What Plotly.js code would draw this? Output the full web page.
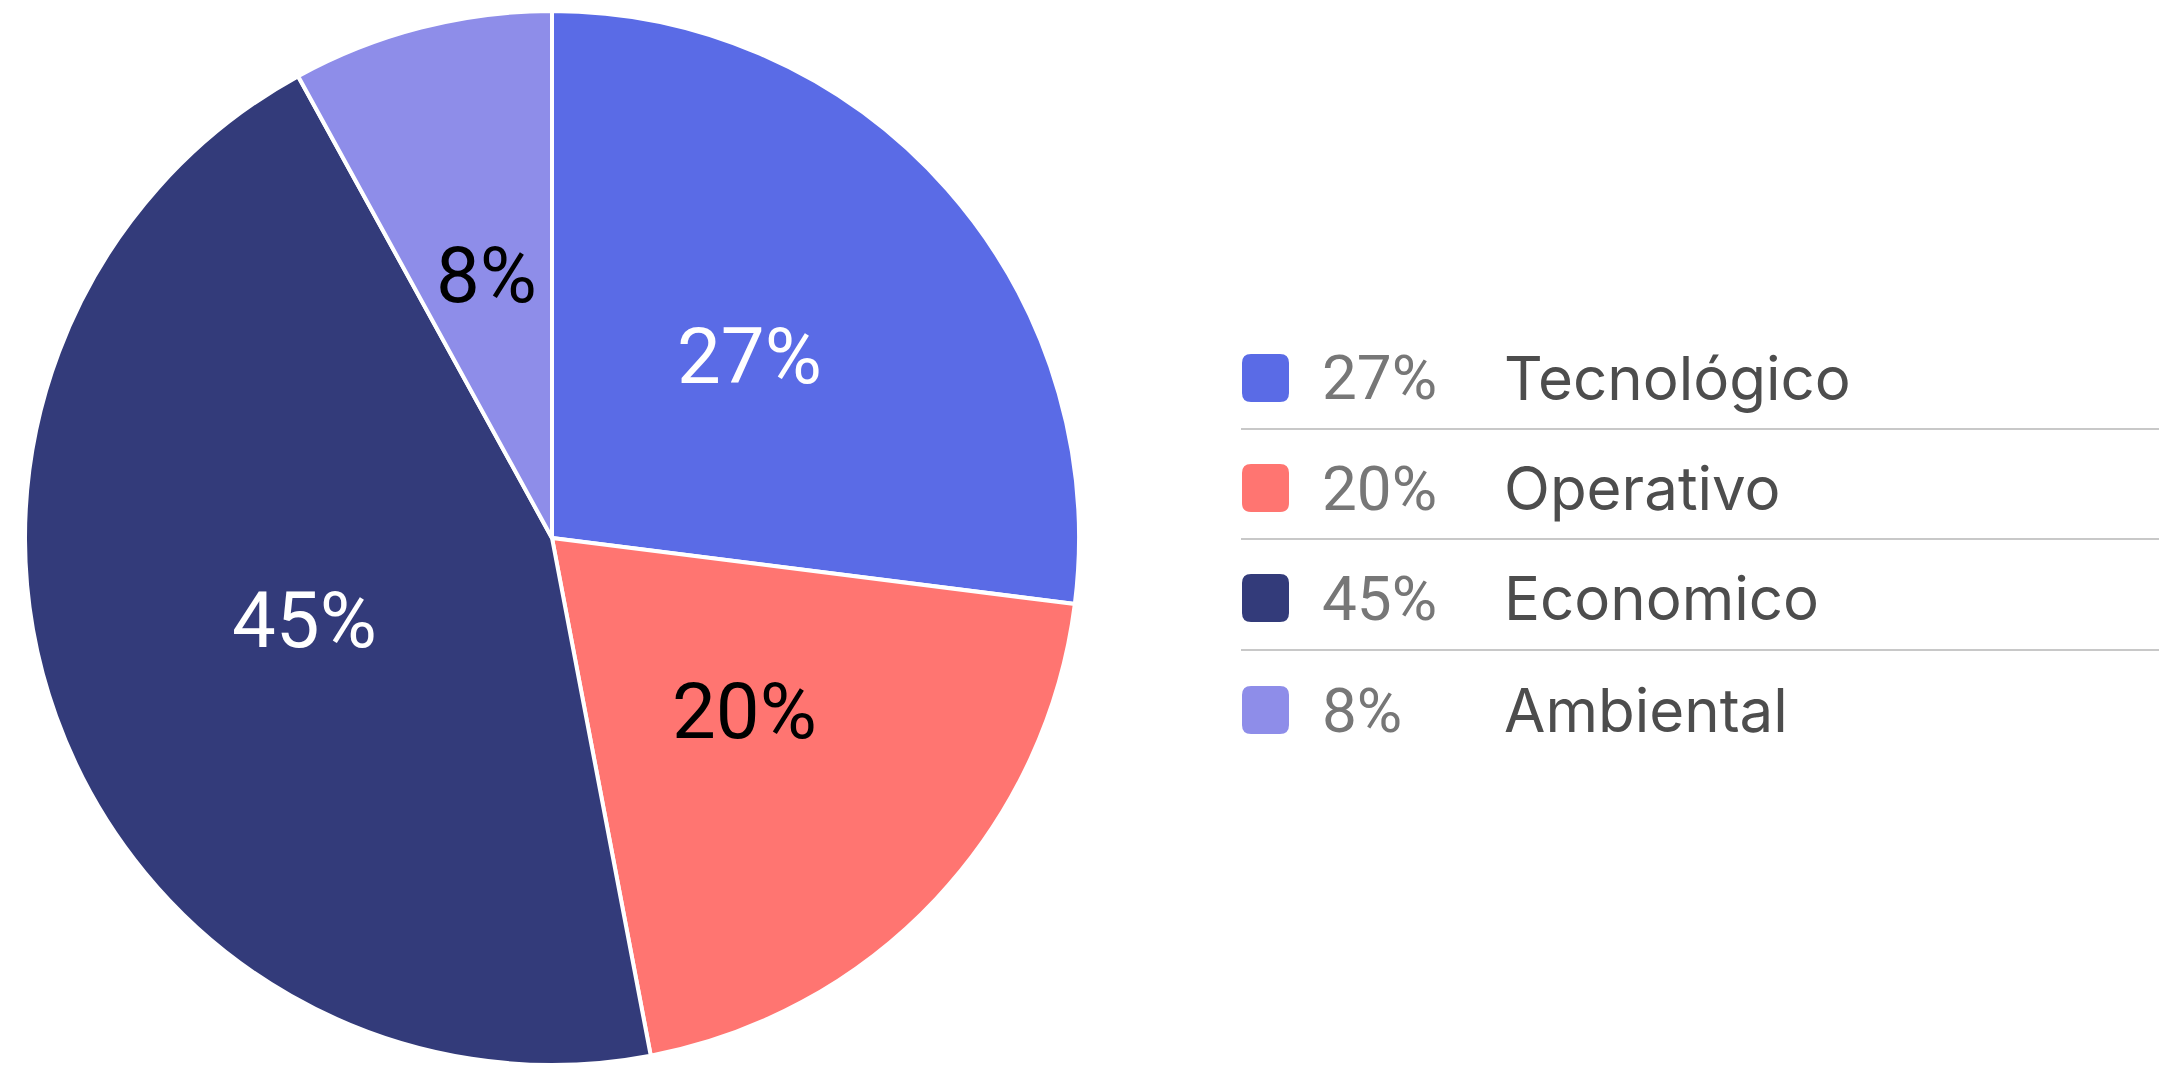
<!DOCTYPE html>
<html>
<head>
<meta charset="utf-8">
<script src="https://cdn.plot.ly/plotly-3.0.1.min.js"></script>
<style>
  html, body { margin: 0; padding: 0; background: #fff; }
  #chart { width: 2159px; height: 1065px; }
</style>
</head>
<body>
<div id="chart"></div>
<script>
// données du graphique
let categories = ['Tecnológico', 'Operativo', 'Economico', 'Ambiental'];
let valores = [27, 20, 45, 8];
let colores = ['#5a6be6', '#ff7571', '#333b7a', '#8e8de9'];
let coloresTexto = ['#ffffff', '#000000', '#ffffff', '#000000'];

const W = 2159, H = 1065;
const fuente = 'Inter, "Open Sans", sans-serif';
const fuentePie = 'Roboto, Inter, sans-serif';

// conversion pixels -> coordonnées papier
function px(x) { return x / W; }
function py(y) { return 1 - y / H; }

// rectangle arrondi en coordonnées papier
function rectArrondi(x0, y0, x1, y1, r) {
    let rx = r / W, ry = r / H;
    let a = px(x0), b = px(x1), t = py(y0), u = py(y1);
    return `M${a + rx},${t} L${b - rx},${t} Q${b},${t} ${b},${t - ry} ` +
        `L${b},${u + ry} Q${b},${u} ${b - rx},${u} L${a + rx},${u} ` +
        `Q${a},${u} ${a},${u + ry} L${a},${t - ry} Q${a},${t} ${a + rx},${t} Z`;
}

let total = valores.reduce((s, v) => s + v, 0);

// domaine du camembert (pixels)
const pieX0 = 25, pieX1 = 1079, pieH = 1054;
let cx = (pieX0 + pieX1) / 2;
let cy = H - pieH / 2;
let R = Math.min(pieX1 - pieX0, pieH) / 2;

let data = [{
    type: 'pie',
    labels: categories,
    values: valores,
    sort: false,
    direction: 'clockwise',
    rotation: 0,
    marker: { colors: colores, line: { color: '#ffffff', width: 4 } },
    textinfo: 'none',
    hoverinfo: 'label+percent',
    domain: { x: [px(pieX0), px(pieX1)], y: [0, pieH / H] },
    showlegend: false
}];

let shapes = [];
let annotations = [];

// étiquettes des parts, à mi-rayon sur l'angle médian
let cumul = 0;
valores.forEach((v, i) => {
    let ang = (cumul + v / 2) / total * 2 * Math.PI;
    cumul += v;
    let x = cx + 0.5 * R * Math.sin(ang);
    let y = cy - 0.5 * R * Math.cos(ang) - 7;
    annotations.push({
        xref: 'paper', yref: 'paper', x: px(x), y: py(y),
        xanchor: 'center', yanchor: 'middle', showarrow: false,
        text: Math.round(v / total * 100) + '%',
        font: { family: fuentePie, size: 78, color: coloresTexto[i] }
    });
});

// légende faite à la main
let filas = [378, 488, 598, 710];
categories.forEach((cat, i) => {
    let yc = filas[i];
    shapes.push({
        type: 'path', xref: 'paper', yref: 'paper',
        path: rectArrondi(1242, yc - 24, 1289, yc + 24, 9),
        fillcolor: colores[i], line: { width: 0 }
    });
    annotations.push({
        xref: 'paper', yref: 'paper', x: px(1320), y: py(yc),
        xanchor: 'left', yanchor: 'middle', showarrow: false,
        text: Math.round(valores[i] / total * 100) + '%',
        font: { family: fuentePie, size: 62, color: '#777777' }
    });
    annotations.push({
        xref: 'paper', yref: 'paper', x: px(1502), y: py(yc),
        xanchor: 'left', yanchor: 'middle', showarrow: false,
        text: cat,
        font: { family: fuente, size: 60, color: '#4d4d4d' }
    });
    if (i < categories.length - 1) {
        let ys = (filas[i] + filas[i + 1]) / 2 - 4;
        shapes.push({
            type: 'line', xref: 'paper', yref: 'paper',
            x0: px(1241), x1: 1, y0: py(ys), y1: py(ys),
            line: { color: '#c8c8c8', width: 2 }
        });
    }
});

let layout = {
    width: W, height: H,
    margin: { l: 0, r: 0, t: 0, b: 0 },
    paper_bgcolor: '#ffffff',
    font: { family: fuente },
    shapes: shapes,
    annotations: annotations
};

Plotly.newPlot('chart', data, layout, { displayModeBar: false, staticPlot: true });
</script>
</body>
</html>
